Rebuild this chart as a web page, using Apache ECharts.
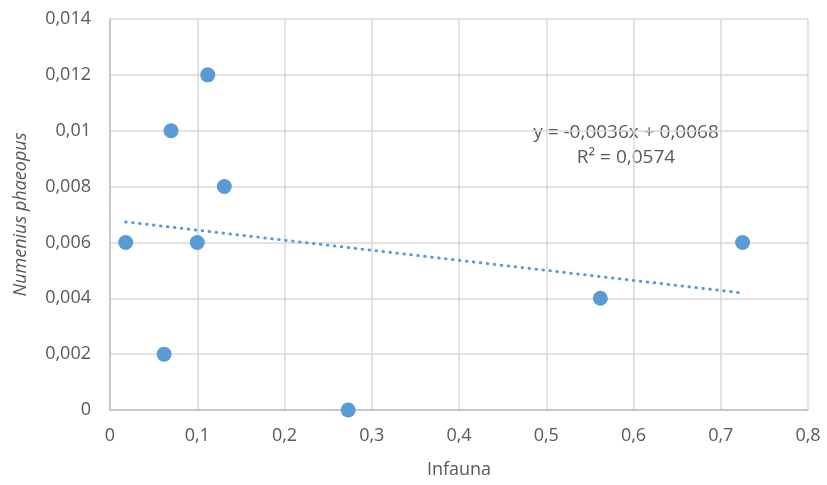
<!DOCTYPE html>
<html>
<head>
<meta charset="utf-8">
<script src="https://cdn.jsdelivr.net/npm/echarts@6/dist/echarts.min.js"></script>
<style>
  html, body { margin: 0; padding: 0; background: #fff; }
  #chart { width: 827px; height: 485px; }
</style>
</head>
<body>
<div id="chart"></div>
<script>
// data
const infauna = [0.018, 0.062, 0.07, 0.1, 0.112, 0.131, 0.273, 0.562, 0.725];
const numenius = [0.006, 0.002, 0.01, 0.006, 0.012, 0.008, 0, 0.004, 0.006];
const trendSlope = -0.0036;
const trendIntercept = 0.0068;
const trendText = ['y = -0,0036x + 0,0068', 'R² = 0,0574'];

const points = infauna.map((x, i) => [x, numenius[i]]);
const xMin = Math.min(...infauna);
const xMax = Math.max(...infauna);
const trend = [xMin, xMax].map(x => [x, trendIntercept + trendSlope * x]);

const comma = v => String(+v.toFixed(4)).replace('.', ',');
const font = "'Open Sans', sans-serif";
const grey = '#595959';

const chart = echarts.init(document.getElementById('chart'));
chart.setOption({
    animation: false,
    grid: { left: 110, right: 19, top: 19, bottom: 75, outerBoundsMode: 'none', containLabel: false },
    xAxis: {
        type: 'value', min: 0, max: 0.8, interval: 0.1,
        name: 'Infauna', nameLocation: 'middle', nameGap: 51,
        nameTextStyle: { color: grey, fontSize: 18, fontFamily: font },
        axisLine: { show: true, lineStyle: { color: '#bfbfbf', width: 1.5 } },
        axisTick: { show: false },
        axisLabel: { color: grey, fontSize: 18, fontFamily: font, margin: 17, formatter: comma },
        splitLine: { lineStyle: { color: '#d9d9d9', width: 1.5 } }
    },
    yAxis: {
        type: 'value', min: 0, max: 0.014, interval: 0.002,
        name: 'Numenius phaeopus', nameLocation: 'middle', nameGap: 80,
        nameTextStyle: { color: grey, fontSize: 18, fontFamily: font, fontStyle: 'italic' },
        axisLine: { show: true, lineStyle: { color: '#bfbfbf', width: 1.5 } },
        axisTick: { show: false },
        axisLabel: { color: grey, fontSize: 18, fontFamily: font, margin: 19, formatter: comma },
        splitLine: { lineStyle: { color: '#d9d9d9', width: 1.5 } }
    },
    series: [
        {
            type: 'line', data: trend, symbol: 'none', silent: true,
            lineStyle: { color: '#5b9bd5', width: 3, type: [0.5, 6.5], cap: 'round' },
            z: 1
        },
        {
            type: 'scatter', data: points, symbolSize: 15,
            itemStyle: { color: '#5b9bd5', opacity: 1 },
            z: 2
        }
    ],
    graphic: trendText.map((t, i) => ({
        type: 'text', x: 626, y: 133 + i * 25,
        style: {
            text: t, fill: grey, font: '19px ' + font,
            textAlign: 'center', textVerticalAlign: 'middle'
        }
    }))
});
</script>
</body>
</html>
